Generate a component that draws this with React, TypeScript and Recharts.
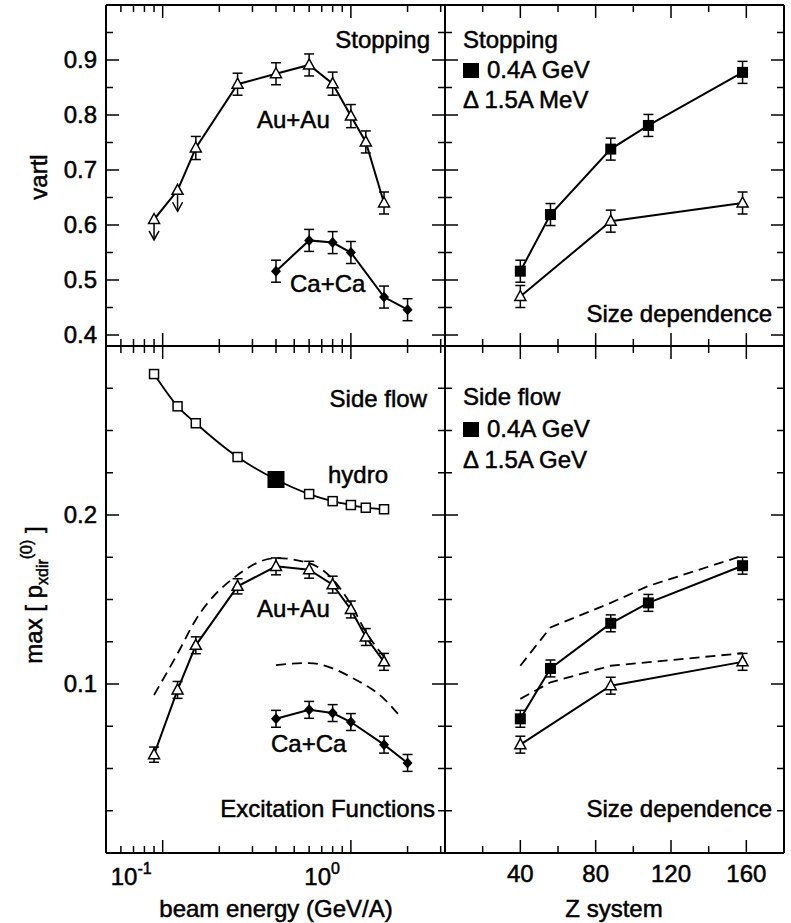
import React from 'react';
import { ComposedChart, Line, XAxis, YAxis, ErrorBar } from 'recharts';

const W = 791;
const H = 923;
const FONT = '"Liberation Sans", Arial, Helvetica, sans-serif';
const FS = 24;
// slightly heavier glyphs than the plain regular face
const TEXT_STROKE = { stroke: '#000', strokeWidth: 0.5 };

// beam energies (GeV/A)
const energyAu = [0.09, 0.12, 0.15, 0.25, 0.4, 0.6, 0.8, 1.0, 1.2, 1.5];
const energyCa = [0.4, 0.6, 0.8, 1.0, 1.5, 2.0];

// stopping (vartl) vs beam energy
const vartlAu = [0.61, 0.663, 0.74, 0.856, 0.875, 0.891, 0.857, 0.798, 0.751, 0.64];
const vartlAuErr = [null, null, 0.021, 0.02, 0.02, 0.02, 0.021, 0.021, 0.02, 0.02];
const vartlCa = [0.516, 0.572, 0.568, 0.55, 0.469, 0.446];
const vartlCaErr = [0.02, 0.02, 0.02, 0.02, 0.02, 0.02];
// upper limits at the two lowest energies
const limitEnergy = [0.09, 0.12];
const limitFrom = [0.61, 0.663];
const limitTo = [0.573, 0.625];

// side flow vs beam energy
const hydroFlow = [0.2834, 0.2643, 0.2543, 0.2343, 0.221, 0.2124, 0.2082, 0.2059, 0.2043, 0.2034];
const flowAu = [0.0582, 0.0965, 0.1229, 0.1578, 0.1696, 0.1676, 0.1588, 0.1441, 0.1278, 0.1131];
const flowAuErr = [0.0045, 0.005, 0.005, 0.0045, 0.005, 0.005, 0.005, 0.005, 0.005, 0.005];
const flowAuCalc = [0.0935, 0.118, 0.138, 0.1645, 0.1745, 0.1715, 0.162, 0.147, 0.131, 0.116];
const flowCa = [0.0794, 0.0847, 0.0828, 0.0775, 0.0641, 0.0533];
const flowCaErr = [0.005, 0.005, 0.005, 0.005, 0.005, 0.005];
const energyCaCalc = [0.4, 0.6, 0.8, 1.0, 1.5, 1.85];
const flowCaCalc = [0.1112, 0.1124, 0.1092, 0.1041, 0.0912, 0.08];

// size dependence (Z of the system)
const zSys04 = [40, 56, 88, 108, 158];
const zSys15 = [40, 88, 158];
const stop04 = [0.516, 0.619, 0.738, 0.781, 0.8775];
const stop04Err = [0.02, 0.02, 0.02, 0.02, 0.02];
const stop15 = [0.47, 0.607, 0.64];
const stop15Err = [0.02, 0.02, 0.02];
const flow04 = [0.0794, 0.1092, 0.1359, 0.148, 0.17];
const flow04Err = [0.005, 0.005, 0.005, 0.005, 0.005];
const flow15 = [0.0641, 0.099, 0.1131];
const flow15Err = [0.005, 0.005, 0.005];
const zCalc04 = [40, 56, 88, 108, 158];
const flow04Calc = [0.1108, 0.1335, 0.148, 0.158, 0.1759];
const zCalc15 = [40, 56, 88, 158];
const flow15Calc = [0.0912, 0.101, 0.1108, 0.1182];

// axis ticks
const energyTicks = [0.06, 0.07, 0.08, 0.09, 0.1, 0.2, 0.3, 0.4, 0.5, 0.6, 0.7, 0.8, 0.9, 1, 2, 3];
const energyMajor = [0.1, 1];
const zTicks = [20, 40, 60, 80, 100, 120, 140, 160];
const zMajor = [40, 80, 120, 160];
const vartlTicks = [0.4, 0.45, 0.5, 0.55, 0.6, 0.65, 0.7, 0.75, 0.8, 0.85, 0.9, 0.95];
const vartlMajor = [0.4, 0.5, 0.6, 0.7, 0.8, 0.9];
const flowTicks = [0.025, 0.05, 0.075, 0.1, 0.125, 0.15, 0.175, 0.2, 0.225, 0.25, 0.275];
const flowMajor = [0.1, 0.2];

const pts = (xs: number[], ys: number[], es?: (number | null)[]) =>
  xs.map((x, i) => ({ x, y: ys[i], e: es ? es[i] : null }));

type Side = 'left' | 'right' | 'top' | 'bottom';
type LabelFn = (v: number, x: number, y: number) => React.ReactNode;

const inwardTick = (side: Side, majors: number[], label?: LabelFn) => (props: any) => {
  const { x, y, payload, index } = props;
  const v = payload.value;
  const major = majors.some((m) => Math.abs(m - v) < 1e-9);
  const len = major ? 13 : 7;
  const d =
    side === 'left' ? [len, 0] : side === 'right' ? [-len, 0] : side === 'bottom' ? [0, -len] : [0, len];
  return (
    <g key={`t-${side}-${index}`}>
      <line x1={x} y1={y} x2={x + d[0]} y2={y + d[1]} stroke="#000" strokeWidth={1.5} />
      {major && label ? label(v, x, y) : null}
    </g>
  );
};

const yLabel: LabelFn = (v, x, y) => (
  <text x={x - 9} y={y} dy="0.35em" textAnchor="end" fontSize={FS} fontFamily={FONT} fill="#000" {...TEXT_STROKE}>
    {v.toFixed(1)}
  </text>
);
const zLabel: LabelFn = (v, x, y) => (
  <text x={x} y={y + 29} textAnchor="middle" fontSize={FS} fontFamily={FONT} fill="#000" {...TEXT_STROKE}>
    {v}
  </text>
);
const eLabel: LabelFn = (v, x, y) => (
  <text x={x - 11} y={y + 32} textAnchor="end" fontSize={FS} fontFamily={FONT} fill="#000" {...TEXT_STROKE}>
    10
    <tspan dy={-11} fontSize={16}>
      {Math.round(Math.log10(v))}
    </tspan>
  </text>
);

type AxisCfg = {
  scale: 'log' | 'linear';
  domain: [number, number];
  ticks: number[];
  majors: number[];
  label?: LabelFn;
};

const energyAxis: AxisCfg = { scale: 'log', domain: [0.05, 3.162], ticks: energyTicks, majors: energyMajor, label: eLabel };
const zAxis: AxisCfg = { scale: 'linear', domain: [0, 180], ticks: zTicks, majors: zMajor, label: zLabel };
const vartlAxis: AxisCfg = { scale: 'linear', domain: [0.38, 1.0], ticks: vartlTicks, majors: vartlMajor, label: yLabel };
const flowAxis: AxisCfg = { scale: 'linear', domain: [0, 0.3], ticks: flowTicks, majors: flowMajor, label: yLabel };

const frameLine = { stroke: '#000', strokeWidth: 2 };

function axes(x: AxisCfg, y: AxisCfg, showX: boolean, showY: boolean) {
  const common = {
    type: 'number' as const,
    allowDataOverflow: true,
    interval: 0 as const,
    tickSize: 0,
    tickMargin: 0,
    tickLine: false,
    axisLine: frameLine,
  };
  return [
    <XAxis key="xb" dataKey="x" {...common} scale={x.scale} domain={x.domain} ticks={x.ticks} height={40}
      tick={inwardTick('bottom', x.majors, showX ? x.label : undefined)} />,
    <XAxis key="xt" xAxisId="top" orientation="top" dataKey="x" {...common} scale={x.scale} domain={x.domain}
      ticks={x.ticks} height={5} tick={inwardTick('top', x.majors)} />,
    <YAxis key="yl" {...common} scale={y.scale} domain={y.domain} ticks={y.ticks} width={50}
      tick={inwardTick('left', y.majors, showY ? y.label : undefined)} />,
    <YAxis key="yr" yAxisId="right" orientation="right" {...common} scale={y.scale} domain={y.domain}
      ticks={y.ticks} width={5} tick={inwardTick('right', y.majors)} />,
  ];
}

// markers
const openTriangle = (p: any) => {
  const { cx, cy, index } = p;
  if (cx == null || cy == null) return <g key={index} />;
  return (
    <path key={index} d={`M${cx},${cy - 6} L${cx + 5.5},${cy + 4} L${cx - 5.5},${cy + 4} Z`}
      fill="#fff" stroke="#000" strokeWidth={1.5} />
  );
};
const diamond = (p: any) => {
  const { cx, cy, index } = p;
  if (cx == null || cy == null) return <g key={index} />;
  return <path key={index} d={`M${cx},${cy - 5.5} L${cx + 5},${cy} L${cx},${cy + 5.5} L${cx - 5},${cy} Z`} fill="#000" />;
};
const filledSquare = (p: any) => {
  const { cx, cy, index } = p;
  if (cx == null || cy == null) return <g key={index} />;
  return <rect key={index} x={cx - 5.5} y={cy - 5.5} width={11} height={11} fill="#000" />;
};
const hydroSquare = (p: any) => {
  const { cx, cy, index, payload } = p;
  if (cx == null || cy == null) return <g key={index} />;
  if (payload && payload.x === 0.4) {
    return <rect key={index} x={cx - 8.5} y={cy - 8.5} width={17} height={17} fill="#000" />;
  }
  return <rect key={index} x={cx - 4.5} y={cy - 4.5} width={9} height={9} fill="#fff" stroke="#000" strokeWidth={1.5} />;
};
const arrowHead = (p: any) => {
  const { cx, cy, index } = p;
  if (index !== 1 || cx == null || cy == null) return <g key={index} />;
  return <path key={index} d={`M${cx - 5},${cy - 9} L${cx},${cy} L${cx + 5},${cy - 9}`} fill="none" stroke="#000" strokeWidth={1.5} />;
};

const errBar = <ErrorBar dataKey="e" direction="y" width={5} stroke="#000" strokeWidth={1.5} />;

type Rect = { left: number; top: number; right: number; bottom: number };

function Panel({ rect, children }: { rect: Rect; children: React.ReactNode }) {
  const margin = {
    left: rect.left - 50,
    right: W - rect.right - 5,
    top: rect.top - 5,
    bottom: H - rect.bottom - 40,
  };
  return (
    <div style={{ position: 'absolute', left: 0, top: 0 }}>
      <ComposedChart width={W} height={H} margin={margin}>
        {children}
      </ComposedChart>
    </div>
  );
}

const Txt = ({ x, y, anchor = 'start', children }: { x: number; y: number; anchor?: string; children: React.ReactNode }) => (
  <text x={x} y={y} textAnchor={anchor as any} fontSize={FS} fontFamily={FONT} fill="#000" {...TEXT_STROKE}>
    {children}
  </text>
);

export default function App() {
  return (
    <div style={{ position: 'absolute', left: 0, top: 0, width: W, height: H, background: '#fff' }}>
      {/* stopping vs beam energy */}
      <Panel rect={{ left: 106, top: 5, right: 445, bottom: 346 }}>
        {axes(energyAxis, vartlAxis, false, true)}
        <Line data={pts(energyAu, vartlAu, vartlAuErr)} dataKey="y" stroke="#000" strokeWidth={2}
          dot={openTriangle} isAnimationActive={false}>
          {errBar}
        </Line>
        <Line data={pts(energyCa, vartlCa, vartlCaErr)} dataKey="y" stroke="#000" strokeWidth={2}
          dot={diamond} isAnimationActive={false}>
          {errBar}
        </Line>
        {limitEnergy.map((e, i) => (
          <Line key={`lim${i}`} data={[{ x: e, y: limitFrom[i] }, { x: e, y: limitTo[i] }]} dataKey="y"
            stroke="#000" strokeWidth={1.5} dot={arrowHead} isAnimationActive={false} />
        ))}
      </Panel>

      {/* stopping vs system size */}
      <Panel rect={{ left: 445, top: 5, right: 784, bottom: 346 }}>
        {axes(zAxis, vartlAxis, false, false)}
        <Line data={pts(zSys04, stop04, stop04Err)} dataKey="y" stroke="#000" strokeWidth={2}
          dot={filledSquare} isAnimationActive={false}>
          {errBar}
        </Line>
        <Line data={pts(zSys15, stop15, stop15Err)} dataKey="y" stroke="#000" strokeWidth={2}
          dot={openTriangle} isAnimationActive={false}>
          {errBar}
        </Line>
      </Panel>

      {/* side flow vs beam energy */}
      <Panel rect={{ left: 106, top: 346, right: 445, bottom: 853 }}>
        {axes(energyAxis, flowAxis, true, true)}
        <Line data={pts(energyAu, hydroFlow)} dataKey="y" type="monotone" stroke="#000" strokeWidth={1.8}
          dot={hydroSquare} isAnimationActive={false} />
        <Line data={pts(energyAu, flowAuCalc)} dataKey="y" type="monotone" stroke="#000" strokeWidth={1.8}
          strokeDasharray="10 6" dot={false} isAnimationActive={false} />
        <Line data={pts(energyCaCalc, flowCaCalc)} dataKey="y" type="monotone" stroke="#000" strokeWidth={1.8}
          strokeDasharray="10 6" dot={false} isAnimationActive={false} />
        <Line data={pts(energyAu, flowAu, flowAuErr)} dataKey="y" stroke="#000" strokeWidth={2}
          dot={openTriangle} isAnimationActive={false}>
          {errBar}
        </Line>
        <Line data={pts(energyCa, flowCa, flowCaErr)} dataKey="y" stroke="#000" strokeWidth={2}
          dot={diamond} isAnimationActive={false}>
          {errBar}
        </Line>
      </Panel>

      {/* side flow vs system size */}
      <Panel rect={{ left: 445, top: 346, right: 784, bottom: 853 }}>
        {axes(zAxis, flowAxis, true, false)}
        <Line data={pts(zCalc04, flow04Calc)} dataKey="y" stroke="#000" strokeWidth={1.8}
          strokeDasharray="10 6" dot={false} isAnimationActive={false} />
        <Line data={pts(zCalc15, flow15Calc)} dataKey="y" stroke="#000" strokeWidth={1.8}
          strokeDasharray="10 6" dot={false} isAnimationActive={false} />
        <Line data={pts(zSys04, flow04, flow04Err)} dataKey="y" stroke="#000" strokeWidth={2}
          dot={filledSquare} isAnimationActive={false}>
          {errBar}
        </Line>
        <Line data={pts(zSys15, flow15, flow15Err)} dataKey="y" stroke="#000" strokeWidth={2}
          dot={openTriangle} isAnimationActive={false}>
          {errBar}
        </Line>
      </Panel>

      {/* annotations and axis titles */}
      <svg width={W} height={H} style={{ position: 'absolute', left: 0, top: 0 }}>
        <Txt x={430} y={48} anchor="end">Stopping</Txt>
        <Txt x={257} y={128}>Au+Au</Txt>
        <Txt x={290} y={292}>Ca+Ca</Txt>

        <Txt x={463} y={48}>Stopping</Txt>
        <rect x={463} y={63} width={16} height={15} fill="#000" />
        <Txt x={487} y={78}>0.4A GeV</Txt>
        <Txt x={463} y={108}>Δ 1.5A MeV</Txt>
        <Txt x={772} y={322} anchor="end">Size dependence</Txt>

        <Txt x={427} y={407} anchor="end">Side flow</Txt>
        <Txt x={328} y={483}>hydro</Txt>
        <Txt x={257} y={617}>Au+Au</Txt>
        <Txt x={271} y={752}>Ca+Ca</Txt>
        <Txt x={435} y={817} anchor="end">Excitation Functions</Txt>

        <Txt x={463} y={405}>Side flow</Txt>
        <rect x={463} y={422} width={16} height={15} fill="#000" />
        <Txt x={487} y={437}>0.4A GeV</Txt>
        <Txt x={463} y={468}>Δ 1.5A GeV</Txt>
        <Txt x={772} y={817} anchor="end">Size dependence</Txt>

        <text x={47} y={177} transform="rotate(-90 47 177)" textAnchor="middle" fontSize={FS} fontFamily={FONT} {...TEXT_STROKE}>
          vartl
        </text>
        <text x={42} y={595} transform="rotate(-90 42 595)" textAnchor="middle" fontSize={FS} fontFamily={FONT} {...TEXT_STROKE}>
          max [ p
          <tspan dy={6} fontSize={16}>xdir</tspan>
          <tspan dy={-16} fontSize={16}>(0)</tspan>
          <tspan dy={10}> ]</tspan>
        </text>
        <Txt x={276} y={917} anchor="middle">beam energy (GeV/A)</Txt>
        <Txt x={614} y={917} anchor="middle">Z system</Txt>
      </svg>
    </div>
  );
}
